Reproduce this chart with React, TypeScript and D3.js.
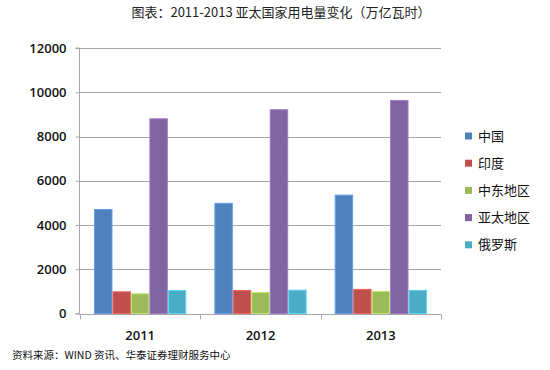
import React, { useEffect, useRef } from 'react';
import * as d3 from 'd3';

const WIDTH = 550;
const HEIGHT = 370;
const MARGIN = { top: 48, right: 109, bottom: 56, left: 79 };

const years = ['2011', '2012', '2013'];
const regions = ['中国', '印度', '中东地区', '亚太地区', '俄罗斯'];
const colors = ['#4F81BD', '#C0504D', '#9BBB59', '#8064A2', '#4BACC6'];
const chinaValues = [4700, 4980, 5350];
const indiaValues = [980, 1040, 1090];
const middleEastValues = [890, 950, 1000];
const asiaPacificValues = [8800, 9210, 9630];
const russiaValues = [1040, 1055, 1045];
const seriesValues = [chinaValues, indiaValues, middleEastValues, asiaPacificValues, russiaValues];
const yTicks = [0, 2000, 4000, 6000, 8000, 10000, 12000];

const TITLE = '图表：2011-2013 亚太国家用电量变化（万亿瓦时）';
const SOURCE = '资料来源：WIND 资讯、华泰证券理财服务中心';

export default function App() {
  const ref = useRef<SVGSVGElement>(null);

  useEffect(() => {
    if (!ref.current) return;
    const svg = d3.select(ref.current);
    svg.selectAll('*').remove();

    const x0 = d3
      .scaleBand()
      .domain(years)
      .range([MARGIN.left + 1, WIDTH - MARGIN.right])
      .paddingInner(0)
      .paddingOuter(0);

    const x1 = d3
      .scaleBand()
      .domain(regions)
      .range([0, x0.bandwidth()])
      .paddingOuter(0.76)
      .paddingInner(0);

    const y = d3
      .scaleLinear()
      .domain([0, 12000])
      .range([HEIGHT - MARGIN.bottom - 0.5, MARGIN.top]);

    // title
    svg
      .append('text')
      .attr('x', 281)
      .attr('y', 17)
      .attr('text-anchor', 'middle')
      .style('font-family', '"Noto Sans CJK SC", "Liberation Sans", sans-serif')
      .style('font-size', '13px')
      .style('fill', '#222')
      .text(TITLE);

    // gridlines
    svg
      .append('g')
      .selectAll('line')
      .data(yTicks.filter((d) => d > 0))
      .enter()
      .append('line')
      .attr('x1', MARGIN.left)
      .attr('x2', WIDTH - MARGIN.right)
      .attr('y1', (d) => Math.round(y(d)) + 0.5)
      .attr('y2', (d) => Math.round(y(d)) + 0.5)
      .attr('stroke', '#A6A6A6')
      .attr('stroke-width', 1);

    // y axis
    const yAxis = d3
      .axisLeft(y)
      .tickValues(yTicks)
      .tickSize(4)
      .tickPadding(9)
      .tickFormat((d) => String(d));

    const yG = svg
      .append('g')
      .attr('transform', `translate(${MARGIN.left + 0.5}, 0)`)
      .call(yAxis);
    yG.select('.domain').attr('stroke', '#A6A6A6').attr('d', `M-4,${y(12000)}H0V${y(0)}H-4`);
    yG.selectAll('.tick line').attr('stroke', '#A6A6A6');
    yG.selectAll('.tick text')
      .style('font-family', '"Open Sans", "Liberation Sans", sans-serif')
      .style('font-size', '13px')
      .style('font-weight', '600')
      .style('fill', '#111');

    // x axis
    const xAxisG = svg
      .append('g')
      .attr('transform', `translate(0, ${Math.round(y(0)) + 0.5})`);
    xAxisG
      .append('line')
      .attr('x1', MARGIN.left)
      .attr('x2', WIDTH - MARGIN.right)
      .attr('stroke', '#A6A6A6');
    const boundaries = [...years.map((yr) => x0(yr)!), x0(years[years.length - 1])! + x0.bandwidth()];
    xAxisG
      .selectAll('line.tk')
      .data(boundaries)
      .enter()
      .append('line')
      .attr('class', 'tk')
      .attr('x1', (d) => Math.round(d) + 0.5)
      .attr('x2', (d) => Math.round(d) + 0.5)
      .attr('y1', 0)
      .attr('y2', 5)
      .attr('stroke', '#A6A6A6');
    xAxisG
      .selectAll('text')
      .data(years)
      .enter()
      .append('text')
      .attr('x', (d) => x0(d)! + x0.bandwidth() / 2)
      .attr('y', 25)
      .attr('text-anchor', 'middle')
      .style('font-family', '"Open Sans", "Liberation Sans", sans-serif')
      .style('font-size', '13px')
      .style('font-weight', '600')
      .style('fill', '#111')
      .text((d) => d);

    // bars
    const groups = svg
      .append('g')
      .selectAll('g')
      .data(years)
      .enter()
      .append('g')
      .attr('transform', (d) => `translate(${x0(d)}, 0)`);

    groups
      .selectAll('rect')
      .data((_, i) => regions.map((r, s) => ({ region: r, value: seriesValues[s][i], color: colors[s] })))
      .enter()
      .append('rect')
      .attr('x', (d) => x1(d.region)! + 0.5)
      .attr('y', (d) => y(d.value))
      .attr('width', x1.bandwidth() - 1)
      .attr('height', (d) => y(0) - y(d.value))
      .attr('fill', (d) => d.color)
      .attr('stroke', (d) => d3.color(d.color)!.brighter(0.6).formatHex())
      .attr('stroke-width', 1);

    // legend
    const legend = svg
      .append('g')
      .selectAll('g')
      .data(regions)
      .enter()
      .append('g')
      .attr('transform', (_, i) => `translate(465, ${136 + i * 27.2})`);
    legend
      .append('rect')
      .attr('x', 0)
      .attr('y', -3.5)
      .attr('width', 7)
      .attr('height', 7)
      .attr('fill', (_, i) => colors[i]);
    legend
      .append('text')
      .attr('x', 13)
      .attr('y', 0)
      .attr('dy', '0.36em')
      .style('font-family', '"Noto Sans CJK SC", sans-serif')
      .style('font-size', '13px')
      .style('fill', '#111')
      .text((d) => d);

    // source
    svg
      .append('text')
      .attr('x', 12)
      .attr('y', 359)
      .style('font-family', '"Noto Sans CJK SC", sans-serif')
      .style('font-size', '10.5px')
      .style('fill', '#111')
      .text(SOURCE);
  }, []);

  return (
    <svg
      ref={ref}
      width={WIDTH}
      height={HEIGHT}
      style={{ position: 'absolute', left: 0, top: 0, background: '#fff' }}
    />
  );
}
